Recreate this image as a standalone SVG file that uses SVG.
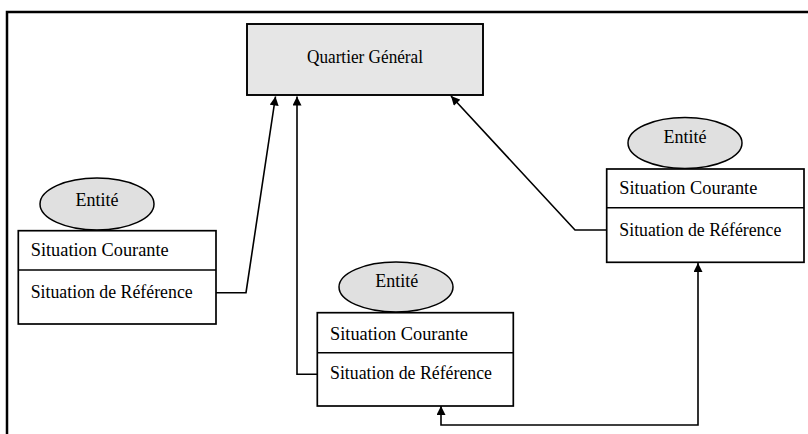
<svg xmlns="http://www.w3.org/2000/svg" width="808" height="434" viewBox="0 0 808 434">
<defs>
<marker id="ah" viewBox="0 0 10 10" refX="10" refY="5" markerWidth="10" markerHeight="9" markerUnits="userSpaceOnUse" orient="auto-start-reverse">
<path d="M0,0 L10,5 L0,10 Z" fill="#000"/>
</marker>
<style>
.frame{fill:none;stroke:#000;stroke-width:2.5}
.box{fill:#fff;stroke:#000;stroke-width:1.7}
.qg{fill:#e6e6e6;stroke:#000;stroke-width:1.9}
.ell{fill:#e0e0e0;stroke:#000;stroke-width:1.5}
.div{stroke:#000;stroke-width:1.5}
.t{font-family:"Liberation Serif","DejaVu Serif","Times New Roman",serif;font-size:18px;fill:#000}
.c{text-anchor:middle}
.con{fill:none;stroke:#000;stroke-width:1.6}
</style>
</defs>
<rect width="808" height="434" fill="#fff"/>
<path class="frame" d="M7,434 V12 H808"/>

<g id="qg">
<rect class="qg" x="247" y="24" width="236" height="71"/>
<text class="t c" x="365" y="63" textLength="116" lengthAdjust="spacingAndGlyphs">Quartier Général</text>
</g>

<g id="entite-gauche">
<ellipse class="ell" cx="97" cy="204" rx="57" ry="26"/>
<text class="t c" x="97" y="206">Entité</text>
<rect class="box" x="18.3" y="230.7" width="197.7" height="93.3"/>
<line class="div" x1="18.3" y1="270" x2="216" y2="270"/>
<text class="t" x="30.7" y="256" textLength="138" lengthAdjust="spacingAndGlyphs">Situation Courante</text>
<text class="t" x="30.7" y="297.7" textLength="162" lengthAdjust="spacingAndGlyphs">Situation de Référence</text>
</g>

<g id="entite-milieu">
<ellipse class="ell" cx="396" cy="287" rx="57" ry="25"/>
<text class="t c" x="396.7" y="286.7">Entité</text>
<rect class="box" x="317.3" y="312.7" width="196" height="93.3"/>
<line class="div" x1="317.3" y1="352.7" x2="513.3" y2="352.7"/>
<text class="t" x="330" y="340" textLength="138" lengthAdjust="spacingAndGlyphs">Situation Courante</text>
<text class="t" x="330" y="379.3" textLength="162" lengthAdjust="spacingAndGlyphs">Situation de Référence</text>
</g>

<g id="entite-droite">
<ellipse class="ell" cx="685" cy="143" rx="57" ry="25.5"/>
<text class="t c" x="685" y="143.3">Entité</text>
<rect class="box" x="606.7" y="169" width="197.3" height="93.3"/>
<line class="div" x1="606.7" y1="207.7" x2="804" y2="207.7"/>
<text class="t" x="619.3" y="194" textLength="138" lengthAdjust="spacingAndGlyphs">Situation Courante</text>
<text class="t" x="619.3" y="236" textLength="162" lengthAdjust="spacingAndGlyphs">Situation de Référence</text>
</g>

<g id="connecteurs">
<path class="con" d="M216,292.7 H246 L275.5,96.5" marker-end="url(#ah)"/>
<path class="con" d="M317.3,374.3 H297 V96.5" marker-end="url(#ah)"/>
<path class="con" d="M606.7,230 H575 L451,96" marker-end="url(#ah)"/>
<path class="con" d="M441,406 V425 H698 V263" marker-start="url(#ah)" marker-end="url(#ah)"/>
</g>
</svg>
